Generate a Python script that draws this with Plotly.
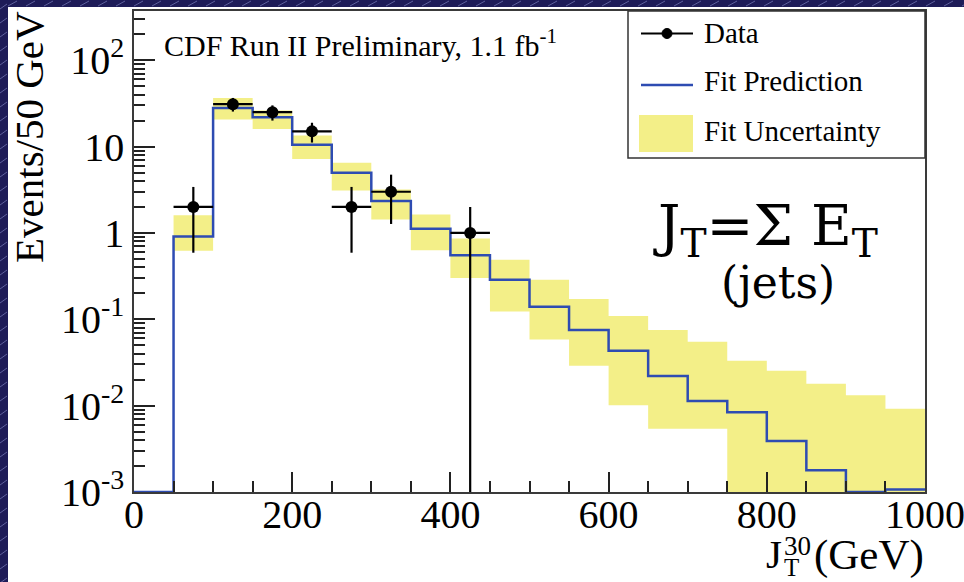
import plotly.graph_objects as go

# ---------------- data ----------------
bin_edges = [0, 50, 100, 150, 200, 250, 300, 350, 400, 450, 500,
             550, 600, 650, 700, 750, 800, 850, 900, 950, 1000]
fit_pred = [0.001, 0.91, 27.9, 21.9, 10.5, 4.96, 2.35, 1.12, 0.55, 0.287,
            0.140, 0.075, 0.0432, 0.0221, 0.0113, 0.0084, 0.0039, 0.00178,
            0.001, 0.00107]
unc_hi = [None, 1.6, 36.4, 26.1, 13.4, 6.5, 3.18, 1.64, 0.86, 0.49,
          0.287, 0.172, 0.109, 0.0752, 0.055, 0.033, 0.0253, 0.0179,
          0.0132, 0.0092]
unc_lo = [None, 0.62, 20.6, 16.0, 7.2, 3.09, 1.43, 0.63, 0.30, 0.123,
          0.0585, 0.0289, 0.0101, 0.0054, 0.0054, 0.0, 0.0, 0.0, 0.0, 0.0]
data_x = [75, 125, 175, 225, 275, 325, 425]
data_y = [2, 31, 25, 15, 2, 3, 1]
data_err = [1.41, 5.57, 5.0, 3.87, 1.41, 1.73, 1.0]
data_xerr = [25, 25, 25, 25, 25, 25, 25]
y_tickvals = [0.001, 0.01, 0.1, 1, 10, 100]
y_ticktext = ["10<sup>-3</sup>", "10<sup>-2</sup>", "10<sup>-1</sup>", "1", "10", "10<sup>2</sup>"]
x_tickvals = [0, 200, 400, 600, 800, 1000]
x_ticktext = ["0", "200", "400", "600", "800", "1000"]

# ---------------- geometry ----------------
W, H = 964, 582
L, R, T, B = 134, 925, 11, 492
Y_FLOOR = 1e-4
SERIF = "Liberation Serif"
YELLOW = "#f3ef88"
BLUE = "#2e4cb2"


def px(x):
    return (x - L) / (R - L)


def py(y):
    return (B - y) / (B - T)


fig = go.Figure()

# uncertainty band: rectangles separated by gaps
bx, by = [], []
for i in range(len(fit_pred)):
    if unc_hi[i] is None:
        continue
    x0, x1 = bin_edges[i], bin_edges[i + 1]
    lo = max(unc_lo[i], Y_FLOOR)
    hi = unc_hi[i]
    bx += [x0, x1, x1, x0, x0, None]
    by += [lo, lo, hi, hi, lo, None]
fig.add_trace(go.Scatter(x=bx, y=by, mode="none", fill="toself",
                         fillcolor=YELLOW, name="Fit Uncertainty",
                         showlegend=False, hoverinfo="skip"))

# fit prediction step line
fig.add_trace(go.Scatter(x=bin_edges, y=fit_pred + [fit_pred[-1]],
                         mode="lines", line=dict(color=BLUE, width=2.5, shape="hv"),
                         name="Fit Prediction", showlegend=False))

# data
fig.add_trace(go.Scatter(x=data_x, y=data_y, mode="markers",
                         marker=dict(color="black", size=12),
                         error_y=dict(type="data", array=data_err, color="black",
                                      thickness=2.2, width=0),
                         error_x=dict(type="data", array=data_xerr, color="black",
                                      thickness=2.2, width=0),
                         name="Data", showlegend=False))

shapes = []
# white canvas over dark hatched frame
shapes.append(dict(type="rect", xref="paper", yref="paper",
                   x0=px(8), x1=px(W + 2), y0=py(7), y1=py(H + 2),
                   fillcolor="white", line=dict(width=0), layer="below"))
# hatch marks on the dark border
for xx in range(-10, W, 18):
    shapes.append(dict(type="line", xref="paper", yref="paper",
                       x0=px(xx), y0=py(6), x1=px(xx + 9), y1=py(1),
                       line=dict(color="rgba(170,180,240,0.45)", width=1),
                       layer="below"))
for yy in range(4, H, 14):
    shapes.append(dict(type="line", xref="paper", yref="paper",
                       x0=px(0), y0=py(yy + 5), x1=px(7), y1=py(yy),
                       line=dict(color="rgba(170,180,240,0.45)", width=1),
                       layer="below"))

# manual legend
shapes.append(dict(type="rect", xref="paper", yref="paper",
                   x0=px(628), x1=px(925), y0=py(11), y1=py(158),
                   fillcolor="white", line=dict(color="#333", width=1.5), layer="above"))
shapes.append(dict(type="line", xref="paper", yref="paper",
                   x0=px(641), x1=px(693), y0=py(33.5), y1=py(33.5),
                   line=dict(color="black", width=2.2), layer="above"))
shapes.append(dict(type="circle", xref="paper", yref="paper",
                   x0=px(662), x1=px(672), y0=py(28.5), y1=py(38.5),
                   fillcolor="black", line=dict(color="black", width=1), layer="above"))
shapes.append(dict(type="line", xref="paper", yref="paper",
                   x0=px(641), x1=px(693), y0=py(85), y1=py(85),
                   line=dict(color=BLUE, width=2.5), layer="above"))
shapes.append(dict(type="rect", xref="paper", yref="paper",
                   x0=px(639), x1=px(693), y0=py(115), y1=py(152),
                   fillcolor=YELLOW, line=dict(width=0), layer="above"))

ann = []


def text(x, y, s, size, xanchor="left", yanchor="middle", font=SERIF, angle=0):
    ann.append(dict(x=px(x), y=py(y), xref="paper", yref="paper", text=s,
                    showarrow=False, xanchor=xanchor, yanchor=yanchor,
                    textangle=angle, borderpad=0,
                    font=dict(family=font, size=size, color="black")))


text(703, 32.5, "Data", 29)
text(703, 81.5, "Fit Prediction", 29)
text(703, 130.5, "Fit Uncertainty", 29)
text(163, 43, "CDF Run II Preliminary, 1.1 fb<sup>-1</sup>", 30)
text(652, 230, "J<sub>T</sub>=Σ E<sub>T</sub>", 56, font="DejaVu Serif")
text(778, 282, "(jets)", 44, xanchor="center", font="DejaVu Serif")
text(29, 137, "Events/50 GeV", 41, xanchor="center", angle=-90)
# x-axis title  J_T^30 (GeV)
text(765, 554, "J", 41)
text(783, 546, "30", 27)
text(783, 582, "T", 25, yanchor="bottom")
text(813, 555, "(GeV)", 43)

minor_y = [m * 10 ** e for e in range(-3, 3) for m in range(2, 10)]

fig.update_layout(
    width=W, height=H,
    margin=dict(l=L, r=W - R, t=T, b=H - B, pad=0, autoexpand=False),
    paper_bgcolor="#1e1c58",
    plot_bgcolor="white",
    showlegend=False,
    shapes=shapes,
    annotations=ann,
    xaxis=dict(range=[0, 1000], showgrid=False, zeroline=False, automargin=False,
               showline=True, mirror=True, linecolor="#3a3a3a", linewidth=1.5,
               ticks="inside", ticklen=20, tickwidth=1.5, tickcolor="#222",
               tickmode="array", tickvals=x_tickvals, ticktext=x_ticktext,
               ticklabeloverflow="allow", ticklabelstandoff=-14,
               tickfont=dict(family=SERIF, size=40, color="black"),
               minor=dict(ticks="inside", ticklen=11, tickwidth=1.5, tickcolor="#222",
                          dtick=50, showgrid=False)),
    yaxis=dict(type="log", range=[-3, 2.57], showgrid=False, zeroline=False, automargin=False,
               showline=True, mirror=True, linecolor="#3a3a3a", linewidth=1.5,
               ticks="inside", ticklen=21, tickwidth=1.5, tickcolor="#222",
               tickmode="array", tickvals=y_tickvals, ticktext=y_ticktext,
               ticklabeloverflow="allow",
               tickfont=dict(family=SERIF, size=40, color="black"),
               minor=dict(ticks="inside", ticklen=11, tickwidth=1.5, tickcolor="#222",
                          tickmode="array", tickvals=minor_y, showgrid=False)),
)

fig.write_html("out.html")
